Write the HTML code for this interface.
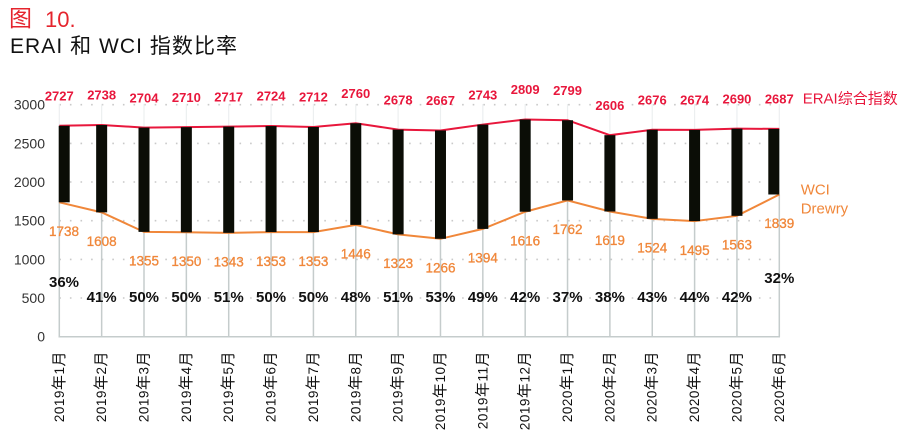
<!DOCTYPE html>
<html><head><meta charset="utf-8"><style>
html,body{margin:0;padding:0;background:#fff;}
svg{display:block;}
text{font-family:"Liberation Sans","Noto Sans CJK SC",sans-serif;}
.c{font-size:15px;}
</style></head><body>
<svg width="909" height="434" viewBox="0 0 909 434" xmlns="http://www.w3.org/2000/svg">
<!-- titles -->
<text x="9" y="26" font-size="23" fill="#e5242d">图</text>
<text x="45" y="27" font-size="22" fill="#e5242d">10.</text>
<text x="10" y="53" font-size="21" fill="#111" textLength="227" lengthAdjust="spacing">ERAI 和 WCI 指数比率</text>

<!-- horizontal dotted grid -->
<g stroke="#c9c9c9" stroke-width="1.6" stroke-dasharray="1.6 9" fill="none">
<line x1="59.3" y1="104.7" x2="780" y2="104.7"/>
<line x1="59.3" y1="143.4" x2="780" y2="143.4"/>
<line x1="59.3" y1="182.0" x2="780" y2="182.0"/>
<line x1="59.3" y1="220.7" x2="780" y2="220.7"/>
<line x1="59.3" y1="259.4" x2="780" y2="259.4"/>
<line x1="59.3" y1="298.0" x2="780" y2="298.0"/>
</g>

<!-- vertical grid: faint upper, darker lower -->
<g stroke="#eceff0" stroke-width="1.2">
<line x1="59.3" y1="104" x2="59.3" y2="202.3"/>
<line x1="101.65" y1="104" x2="101.65" y2="212.4"/>
<line x1="144.0" y1="104" x2="144.0" y2="231.9"/>
<line x1="186.36" y1="104" x2="186.36" y2="232.3"/>
<line x1="228.71" y1="104" x2="228.71" y2="232.8"/>
<line x1="271.06" y1="104" x2="271.06" y2="232.1"/>
<line x1="313.42" y1="104" x2="313.42" y2="232.1"/>
<line x1="355.77" y1="104" x2="355.77" y2="224.9"/>
<line x1="398.12" y1="104" x2="398.12" y2="234.4"/>
<line x1="440.48" y1="104" x2="440.48" y2="238.8"/>
<line x1="482.83" y1="104" x2="482.83" y2="228.9"/>
<line x1="525.18" y1="104" x2="525.18" y2="211.7"/>
<line x1="567.54" y1="104" x2="567.54" y2="200.4"/>
<line x1="609.89" y1="104" x2="609.89" y2="211.5"/>
<line x1="652.24" y1="104" x2="652.24" y2="218.8"/>
<line x1="694.6" y1="104" x2="694.6" y2="221.1"/>
<line x1="736.95" y1="104" x2="736.95" y2="215.8"/>
<line x1="779.3" y1="104" x2="779.3" y2="194.5"/>
</g>
<g stroke="#c5cccc" stroke-width="1.5">
<line x1="59.3" y1="202.3" x2="59.3" y2="337"/>
<line x1="101.65" y1="212.4" x2="101.65" y2="337"/>
<line x1="144.0" y1="231.9" x2="144.0" y2="337"/>
<line x1="186.36" y1="232.3" x2="186.36" y2="337"/>
<line x1="228.71" y1="232.8" x2="228.71" y2="337"/>
<line x1="271.06" y1="232.1" x2="271.06" y2="337"/>
<line x1="313.42" y1="232.1" x2="313.42" y2="337"/>
<line x1="355.77" y1="224.9" x2="355.77" y2="337"/>
<line x1="398.12" y1="234.4" x2="398.12" y2="337"/>
<line x1="440.48" y1="238.8" x2="440.48" y2="337"/>
<line x1="482.83" y1="228.9" x2="482.83" y2="337"/>
<line x1="525.18" y1="211.7" x2="525.18" y2="337"/>
<line x1="567.54" y1="200.4" x2="567.54" y2="337"/>
<line x1="609.89" y1="211.5" x2="609.89" y2="337"/>
<line x1="652.24" y1="218.8" x2="652.24" y2="337"/>
<line x1="694.6" y1="221.1" x2="694.6" y2="337"/>
<line x1="736.95" y1="215.8" x2="736.95" y2="337"/>
<line x1="779.3" y1="194.5" x2="779.3" y2="337"/>
<line x1="58.5" y1="336.7" x2="780" y2="336.7"/>
</g>

<!-- y axis labels -->
<g font-size="14" fill="#333" text-anchor="end">
<text x="45" y="109.7">3000</text>
<text x="45" y="148.4">2500</text>
<text x="45" y="187.0">2000</text>
<text x="45" y="225.7">1500</text>
<text x="45" y="264.4">1000</text>
<text x="45" y="303.0">500</text>
<text x="45" y="341.7">0</text>
</g>

<!-- lines -->
<polyline fill="none" stroke="#e8173c" stroke-width="2" points="59.3,125.8 101.65,124.96 144.0,127.59 186.36,127.13 228.71,126.59 271.06,126.04 313.42,126.97 355.77,123.26 398.12,129.6 440.48,130.45 482.83,124.57 525.18,119.47 567.54,120.24 609.89,135.17 652.24,129.76 694.6,129.91 736.95,128.67 779.3,128.91"/>
<polyline fill="none" stroke="#f0873a" stroke-width="2" points="59.3,202.29 101.65,212.35 144.0,231.91 186.36,232.3 228.71,232.84 271.06,232.07 313.42,232.07 355.77,224.88 398.12,234.39 440.48,238.8 482.83,228.9 525.18,211.73 567.54,200.44 609.89,211.5 652.24,218.84 694.6,221.09 736.95,215.83 779.3,194.48"/>

<!-- bars -->
<g fill="#0b0d06">
<rect x="58.7" y="125.8" width="11" height="76.5"/>
<rect x="96.15" y="124.96" width="11" height="87.4"/>
<rect x="138.5" y="127.59" width="11" height="104.3"/>
<rect x="180.86" y="127.13" width="11" height="105.2"/>
<rect x="223.21" y="126.59" width="11" height="106.25"/>
<rect x="265.56" y="126.04" width="11" height="106.03"/>
<rect x="307.92" y="126.97" width="11" height="105.1"/>
<rect x="350.27" y="123.26" width="11" height="101.62"/>
<rect x="392.62" y="129.6" width="11" height="104.79"/>
<rect x="434.98" y="130.45" width="11" height="108.35"/>
<rect x="477.33" y="124.57" width="11" height="104.33"/>
<rect x="519.68" y="119.47" width="11" height="92.26"/>
<rect x="562.04" y="120.24" width="11" height="80.2"/>
<rect x="604.39" y="135.17" width="11" height="76.33"/>
<rect x="646.74" y="129.76" width="11" height="89.08"/>
<rect x="689.1" y="129.91" width="11" height="91.18"/>
<rect x="731.45" y="128.67" width="11" height="87.16"/>
<rect x="768.3" y="128.91" width="11" height="65.57"/>
</g>

<!-- ERAI labels -->
<g font-size="13" font-weight="bold" fill="#e8173c" text-anchor="middle">
<text x="59.3" y="100.5">2727</text>
<text x="101.65" y="99.7">2738</text>
<text x="144.0" y="102.3">2704</text>
<text x="186.36" y="101.8">2710</text>
<text x="228.71" y="101.3">2717</text>
<text x="271.06" y="100.7">2724</text>
<text x="313.42" y="101.7">2712</text>
<text x="355.77" y="98.0">2760</text>
<text x="398.12" y="104.3">2678</text>
<text x="440.48" y="105.2">2667</text>
<text x="482.83" y="99.3">2743</text>
<text x="525.18" y="94.2">2809</text>
<text x="567.54" y="94.9">2799</text>
<text x="609.89" y="109.9">2606</text>
<text x="652.24" y="104.5">2676</text>
<text x="694.6" y="104.6">2674</text>
<text x="736.95" y="103.4">2690</text>
<text x="779.3" y="103.6">2687</text>
</g>

<!-- WCI labels -->
<g font-size="13.5" fill="#f0873a" text-anchor="middle" stroke="#f0873a" stroke-width="0.3">
<text x="64" y="236.0">1738</text>
<text x="101.65" y="246.0">1608</text>
<text x="144.0" y="265.6">1355</text>
<text x="186.36" y="266.0">1350</text>
<text x="228.71" y="266.5">1343</text>
<text x="271.06" y="265.8">1353</text>
<text x="313.42" y="265.8">1353</text>
<text x="355.77" y="258.6">1446</text>
<text x="398.12" y="268.1">1323</text>
<text x="440.48" y="272.5">1266</text>
<text x="482.83" y="262.6">1394</text>
<text x="525.18" y="245.4">1616</text>
<text x="567.54" y="234.1">1762</text>
<text x="609.89" y="245.2">1619</text>
<text x="652.24" y="252.5">1524</text>
<text x="694.6" y="254.8">1495</text>
<text x="736.95" y="249.5">1563</text>
<text x="779.3" y="228.2">1839</text>
</g>

<!-- percentages -->
<g font-size="15" font-weight="bold" fill="#111" text-anchor="middle">
<text x="64" y="287">36%</text>
<text x="101.65" y="302">41%</text>
<text x="144.0" y="302">50%</text>
<text x="186.36" y="302">50%</text>
<text x="228.71" y="302">51%</text>
<text x="271.06" y="302">50%</text>
<text x="313.42" y="302">50%</text>
<text x="355.77" y="302">48%</text>
<text x="398.12" y="302">51%</text>
<text x="440.48" y="302">53%</text>
<text x="482.83" y="302">49%</text>
<text x="525.18" y="302">42%</text>
<text x="567.54" y="302">37%</text>
<text x="609.89" y="302">38%</text>
<text x="652.24" y="302">43%</text>
<text x="694.6" y="302">44%</text>
<text x="736.95" y="302">42%</text>
<text x="779.3" y="283">32%</text>
</g>

<!-- legend -->
<text x="802.7" y="103.5" font-size="15" fill="#e8173c">ERAI综合指数</text>
<text x="800.7" y="194.5" font-size="15" fill="#f0873a">WCI</text>
<text x="800.7" y="213.5" font-size="15" fill="#f0873a">Drewry</text>

<!-- x axis labels -->
<g font-size="13.5" fill="#111" text-anchor="end" letter-spacing="0.5">
<text transform="translate(63.8,351) rotate(-90)">2019<tspan class="c">年</tspan>1<tspan class="c">月</tspan></text>
<text transform="translate(106.15,351) rotate(-90)">2019<tspan class="c">年</tspan>2<tspan class="c">月</tspan></text>
<text transform="translate(148.5,351) rotate(-90)">2019<tspan class="c">年</tspan>3<tspan class="c">月</tspan></text>
<text transform="translate(190.86,351) rotate(-90)">2019<tspan class="c">年</tspan>4<tspan class="c">月</tspan></text>
<text transform="translate(233.21,351) rotate(-90)">2019<tspan class="c">年</tspan>5<tspan class="c">月</tspan></text>
<text transform="translate(275.56,351) rotate(-90)">2019<tspan class="c">年</tspan>6<tspan class="c">月</tspan></text>
<text transform="translate(317.92,351) rotate(-90)">2019<tspan class="c">年</tspan>7<tspan class="c">月</tspan></text>
<text transform="translate(360.27,351) rotate(-90)">2019<tspan class="c">年</tspan>8<tspan class="c">月</tspan></text>
<text transform="translate(402.62,351) rotate(-90)">2019<tspan class="c">年</tspan>9<tspan class="c">月</tspan></text>
<text transform="translate(444.98,351) rotate(-90)">2019<tspan class="c">年</tspan>10<tspan class="c">月</tspan></text>
<text transform="translate(487.33,351) rotate(-90)">2019<tspan class="c">年</tspan>11<tspan class="c">月</tspan></text>
<text transform="translate(529.68,351) rotate(-90)">2019<tspan class="c">年</tspan>12<tspan class="c">月</tspan></text>
<text transform="translate(572.04,351) rotate(-90)">2020<tspan class="c">年</tspan>1<tspan class="c">月</tspan></text>
<text transform="translate(614.39,351) rotate(-90)">2020<tspan class="c">年</tspan>2<tspan class="c">月</tspan></text>
<text transform="translate(656.74,351) rotate(-90)">2020<tspan class="c">年</tspan>3<tspan class="c">月</tspan></text>
<text transform="translate(699.1,351) rotate(-90)">2020<tspan class="c">年</tspan>4<tspan class="c">月</tspan></text>
<text transform="translate(741.45,351) rotate(-90)">2020<tspan class="c">年</tspan>5<tspan class="c">月</tspan></text>
<text transform="translate(783.8,351) rotate(-90)">2020<tspan class="c">年</tspan>6<tspan class="c">月</tspan></text>
</g>
</svg>
</body></html>
